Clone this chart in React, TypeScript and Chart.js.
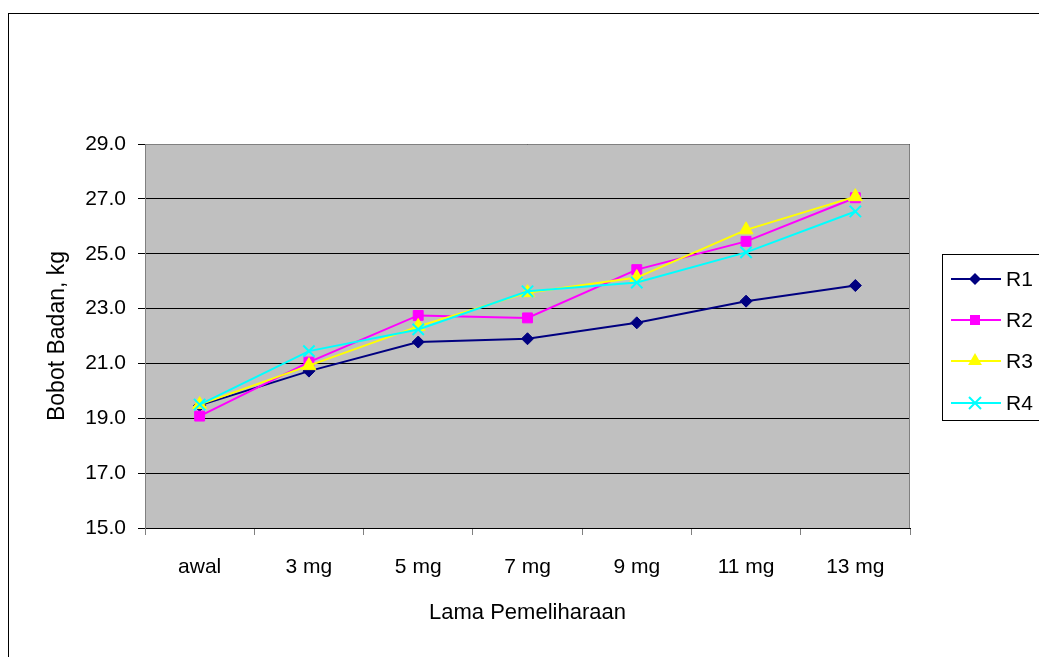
import React, { useEffect, useRef } from 'react';
import { Chart, registerables } from 'chart.js';

Chart.register(...registerables);

const categories = ['awal', '3 mg', '5 mg', '7 mg', '9 mg', '11 mg', '13 mg'];
const seriesNames = ['R1', 'R2', 'R3', 'R4'];
const r1Values = [19.47, 20.72, 21.78, 21.9, 22.48, 23.27, 23.84];
const r2Values = [19.08, 21.05, 22.75, 22.66, 24.42, 25.45, 27.04];
const r3Values = [19.5, 20.92, 22.35, 23.58, 24.13, 25.87, 27.08];
const r4Values = [19.5, 21.45, 22.24, 23.63, 23.95, 25.05, 26.54];
const yMin = 15;
const yMax = 29;
const yStep = 2;
const xTitle = 'Lama Pemeliharaan';
const yTitle = 'Bobot Badan, kg';

const seriesValues = [r1Values, r2Values, r3Values, r4Values];
const colors = ['#000080', '#FF00FF', '#FFFF00', '#00FFFF'];
const pointStyles = ['rectRot', 'rect', 'triangle', 'crossRot'];
const pointRadii = [6, 7, 8, 8];

const FONT_FAMILY = "'Liberation Sans', Arial, sans-serif";
const font = { family: FONT_FAMILY, size: 21 };
const xTitleFont = { family: FONT_FAMILY, size: 22 };
const yTitleFont = { family: FONT_FAMILY, size: 23 };

function drawMarker(ctx: CanvasRenderingContext2D, style: string, x: number, y: number, color: string) {
  ctx.save();
  ctx.fillStyle = color;
  ctx.strokeStyle = color;
  ctx.lineWidth = 2;
  ctx.beginPath();
  if (style === 'rectRot') {
    const r = 6;
    ctx.moveTo(x - r, y);
    ctx.lineTo(x, y - r);
    ctx.lineTo(x + r, y);
    ctx.lineTo(x, y + r);
    ctx.closePath();
    ctx.fill();
  } else if (style === 'rect') {
    const s = 5;
    ctx.rect(x - s, y - s, 2 * s, 2 * s);
    ctx.fill();
  } else if (style === 'triangle') {
    const r = 8;
    ctx.moveTo(x, y - r);
    ctx.lineTo(x + r * Math.sin(Math.PI / 3), y + r / 2);
    ctx.lineTo(x - r * Math.sin(Math.PI / 3), y + r / 2);
    ctx.closePath();
    ctx.fill();
  } else {
    const a = 6;
    ctx.moveTo(x - a, y - a);
    ctx.lineTo(x + a, y + a);
    ctx.moveTo(x + a, y - a);
    ctx.lineTo(x - a, y + a);
    ctx.stroke();
  }
  ctx.restore();
}

const decorPlugin = {
  id: 'decor',
  beforeDraw(chart: any) {
    const { ctx, chartArea } = chart;
    ctx.save();
    ctx.fillStyle = '#ffffff';
    ctx.fillRect(0, 0, chart.width, chart.height);
    ctx.fillStyle = '#c0c0c0';
    ctx.fillRect(chartArea.left, chartArea.top, chartArea.right - chartArea.left, chartArea.bottom - chartArea.top);
    ctx.restore();
  },
  beforeDatasetsDraw(chart: any) {
    const { ctx, chartArea } = chart;
    ctx.save();
    ctx.strokeStyle = '#808080';
    ctx.lineWidth = 1;
    ctx.beginPath();
    ctx.moveTo(chartArea.left, chartArea.top + 0.5);
    ctx.lineTo(chartArea.right - 0.5, chartArea.top + 0.5);
    ctx.lineTo(chartArea.right - 0.5, chartArea.bottom);
    ctx.stroke();
    ctx.restore();
  },
  afterDraw(chart: any) {
    const { ctx } = chart;
    ctx.save();
    ctx.strokeStyle = '#000000';
    ctx.lineWidth = 1;
    ctx.strokeRect(8.5, 13.5, 1200, 800);
    ctx.strokeRect(942.5, 254.5, 200, 166);
    ctx.font = `21px ${FONT_FAMILY}`;
    ctx.textBaseline = 'middle';
    ctx.textAlign = 'left';
    seriesNames.forEach((name, i) => {
      const y = Math.round(279 + i * 41.2);
      ctx.strokeStyle = colors[i];
      ctx.lineWidth = 2;
      ctx.beginPath();
      ctx.moveTo(951, y);
      ctx.lineTo(1001, y);
      ctx.stroke();
      drawMarker(ctx, pointStyles[i], 975, y, colors[i]);
      ctx.fillStyle = '#000000';
      ctx.fillText(name, 1006, y + 1);
    });
    ctx.restore();
  },
};

export default function App() {
  const canvasRef = useRef<HTMLCanvasElement | null>(null);

  useEffect(() => {
    if (!canvasRef.current) return;
    const chart = new Chart(canvasRef.current, {
      type: 'line',
      data: {
        labels: categories,
        datasets: seriesNames.map((name, i) => ({
          label: name,
          data: seriesValues[i],
          borderColor: colors[i],
          backgroundColor: colors[i],
          borderWidth: 2,
          pointStyle: pointStyles[i] as any,
          pointRadius: pointRadii[i],
          pointBorderWidth: i === 3 ? 2 : 1,
          pointBorderColor: colors[i],
          pointBackgroundColor: colors[i],
          tension: 0,
          fill: false,
          order: 4 - i,
        })),
      },
      options: {
        animation: false,
        responsive: false,
        devicePixelRatio: 1,
        layout: { padding: { left: 0, top: 144, right: 129, bottom: 31 } },
        plugins: {
          legend: { display: false },
          tooltip: { enabled: false },
        },
        scales: {
          x: {
            offset: true,
            ticks: { color: '#000', font, padding: 20, maxRotation: 0, autoSkip: false },
            grid: { offset: true, drawOnChartArea: false, drawTicks: true, tickLength: 7, color: '#808080' },
            border: { display: true, color: '#000' },
            title: { display: true, text: xTitle, color: '#000', font: xTitleFont, padding: { top: 0, bottom: 0 } },
            afterFit: (s: any) => { s.height = 98; },
          },
          y: {
            min: yMin,
            max: yMax,
            ticks: { stepSize: yStep, color: '#000', font, padding: 12, callback: (v: any) => Number(v).toFixed(1) },
            grid: { color: '#000', lineWidth: 1, tickLength: 7, drawTicks: true },
            border: { display: true, color: '#808080' },
            title: { display: true, text: yTitle, color: '#000', font: yTitleFont, padding: { top: 44, bottom: 0 } },
            afterFit: (s: any) => { s.width = 145; },
          },
        },
      },
      plugins: [decorPlugin],
    });
    return () => chart.destroy();
  }, []);

  return (
    <div style={{ position: 'fixed', left: 0, top: 0, width: 1039, height: 657, background: '#fff' }}>
      <canvas ref={canvasRef} width={1039} height={657} />
    </div>
  );
}
